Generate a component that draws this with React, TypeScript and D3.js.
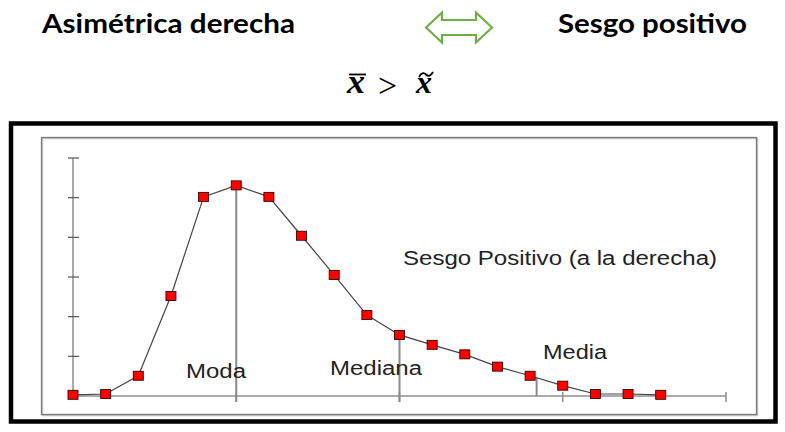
import React, { useRef, useEffect } from "react";
import * as d3 from "d3";

// class index 0..18 and the relative frequency
const classes = [0, 1, 2, 3, 4, 5, 6, 7, 8, 9, 10, 11, 12, 13, 14, 15, 16, 17, 18];
const freq = [0.3, 0.5, 5.1, 25.2, 50.2, 53.1, 50.2, 40.4, 30.5, 20.4, 15.4, 12.9, 10.5, 7.4, 5.1, 2.6, 0.5, 0.5, 0.3];
const yTicks = [0, 10, 20, 30, 40, 50, 60];
const xTicks = [0, 5, 10, 15, 20];
const moda = 5;
const mediana = 10;
const media = 14.2;

const W = 785;
const H = 432;

const App = () => {
  const svgRef = useRef<SVGSVGElement>(null);

  useEffect(() => {
    const svg = d3.select(svgRef.current);
    svg.selectAll("*").remove();

    const x = d3.scaleLinear().domain([0, 20]).range([73, 726]);
    const y = d3.scaleLinear().domain([0, 60]).range([396, 158]);
    const data = classes.map((c, i) => [c, freq[i]] as [number, number]);
    const valueAt = (v: number) => {
      const i = Math.floor(v);
      const t = v - i;
      return freq[i] * (1 - t) + freq[i + 1] * t;
    };

    // header
    const head = svg.append("g").attr("font-family", "Lato, 'Open Sans', sans-serif").attr("font-weight", 700).attr("fill", "#000");
    head.append("text").attr("x", 42).attr("y", 33).attr("font-size", 27)
      .attr("textLength", 253).attr("lengthAdjust", "spacingAndGlyphs").text("Asimétrica derecha");
    head.append("text").attr("x", 558).attr("y", 33).attr("font-size", 27)
      .attr("textLength", 189).attr("lengthAdjust", "spacingAndGlyphs").text("Sesgo positivo");

    // double arrow
    const ax0 = 426, ax1 = 492, ay = 27.5;
    const arrow = [
      [ax0, ay], [442, 12.5], [442, 20], [476, 20], [476, 12.5], [ax1, ay],
      [476, 42.5], [476, 35], [442, 35], [442, 42.5],
    ];
    svg.append("path").attr("d", d3.line()(arrow as [number, number][]) + "Z")
      .attr("fill", "#fff").attr("stroke", "#70ad47").attr("stroke-width", 2.2).attr("stroke-linejoin", "miter");

    // x̄ > x̃
    const math = svg.append("g").attr("font-family", "'Liberation Serif', 'DejaVu Serif', serif").attr("fill", "#000");
    math.append("text").attr("x", 347).attr("y", 93).attr("font-size", 33).attr("font-style", "italic").attr("font-weight", 700)
      .attr("textLength", 18).attr("lengthAdjust", "spacingAndGlyphs").text("x");
    math.append("line").attr("x1", 349).attr("x2", 366).attr("y1", 74.5).attr("y2", 74.5).attr("stroke", "#000").attr("stroke-width", 1.8);
    math.append("text").attr("x", 378).attr("y", 97).attr("font-size", 34)
      .attr("textLength", 19).attr("lengthAdjust", "spacingAndGlyphs").text(">");
    math.append("text").attr("x", 416).attr("y", 93).attr("font-size", 31).attr("font-style", "italic").attr("font-weight", 700)
      .attr("textLength", 16).attr("lengthAdjust", "spacingAndGlyphs").text("x");
    math.append("path").attr("d", "M419,77 Q422.5,71 426,74.5 T433,72")
      .attr("fill", "none").attr("stroke", "#000").attr("stroke-width", 1.8);

    // frames
    svg.append("rect").attr("x", 11).attr("y", 123.5).attr("width", 764.5).attr("height", 298)
      .attr("fill", "none").attr("stroke", "#000").attr("stroke-width", 4.5);
    svg.append("rect").attr("x", 42.5).attr("y", 138.5).attr("width", 715).attr("height", 277)
      .attr("fill", "none").attr("stroke", "#c8c8c8").attr("stroke-width", 1.5);
    svg.append("rect").attr("x", 41.5).attr("y", 137.5).attr("width", 715).attr("height", 277)
      .attr("fill", "none").attr("stroke", "#7a7a7a").attr("stroke-width", 1.3);

    // axes
    const axes = svg.append("g").attr("stroke", "#8f8f8f").attr("stroke-width", 1.5);
    axes.append("line").attr("x1", x(0)).attr("x2", x(0)).attr("y1", y(60)).attr("y2", y(0));
    axes.append("line").attr("x1", x(0)).attr("x2", x(20)).attr("y1", y(0)).attr("y2", y(0));
    axes.selectAll(".yt").data(yTicks.slice(1)).join("line").attr("class", "yt")
      .attr("x1", x(0) - 5).attr("x2", x(0) + 6).attr("y1", (d) => y(d)).attr("y2", (d) => y(d))
      .attr("stroke", "#555").attr("stroke-width", 1.2);
    axes.selectAll(".xt").data(xTicks.slice(1)).join("line").attr("class", "xt")
      .attr("x1", (d) => x(d)).attr("x2", (d) => x(d)).attr("y1", y(0) - 4).attr("y2", y(0) + 6);

    // reference lines
    const refs = svg.append("g").attr("stroke", "#8a8a8a").attr("stroke-width", 2);
    refs.append("line").attr("x1", x(moda)).attr("x2", x(moda)).attr("y1", y(valueAt(moda))).attr("y2", y(0) + 6);
    refs.append("line").attr("x1", x(mediana)).attr("x2", x(mediana)).attr("y1", y(valueAt(mediana))).attr("y2", y(0) + 6);
    refs.append("line").attr("x1", x(media)).attr("x2", x(media)).attr("y1", y(valueAt(media))).attr("y2", y(0));

    // curve
    const myLine = d3.line<[number, number]>().x((d) => x(d[0])).y((d) => y(d[1]));
    svg.append("path").datum(data).attr("d", myLine).attr("fill", "none")
      .attr("stroke", "#444").attr("stroke-width", 1.2);

    svg.selectAll(".pt").data(data).join("rect").attr("class", "pt")
      .attr("x", (d) => x(d[0]) - 5).attr("y", (d) => y(d[1]) - 4.5)
      .attr("width", 10).attr("height", 9)
      .attr("fill", "#ff0000").attr("stroke", "#3a0000").attr("stroke-width", 0.9);

    // labels
    const labels = svg.append("g").attr("font-family", "'Liberation Sans', Arial, sans-serif")
      .attr("font-size", 20).attr("fill", "#222");
    labels.append("text").attr("x", 186).attr("y", 378).attr("textLength", 60).attr("lengthAdjust", "spacingAndGlyphs").text("Moda");
    labels.append("text").attr("x", 330).attr("y", 375).attr("textLength", 92).attr("lengthAdjust", "spacingAndGlyphs").text("Mediana");
    labels.append("text").attr("x", 543).attr("y", 359).attr("textLength", 64).attr("lengthAdjust", "spacingAndGlyphs").text("Media");
    labels.append("text").attr("x", 403).attr("y", 265).attr("textLength", 314).attr("lengthAdjust", "spacingAndGlyphs")
      .text("Sesgo Positivo (a la derecha)");
  }, []);

  return (
    <svg ref={svgRef} width={W} height={H}
      style={{ position: "absolute", left: 0, top: 0, background: "#fff" }} />
  );
};

export default App;
